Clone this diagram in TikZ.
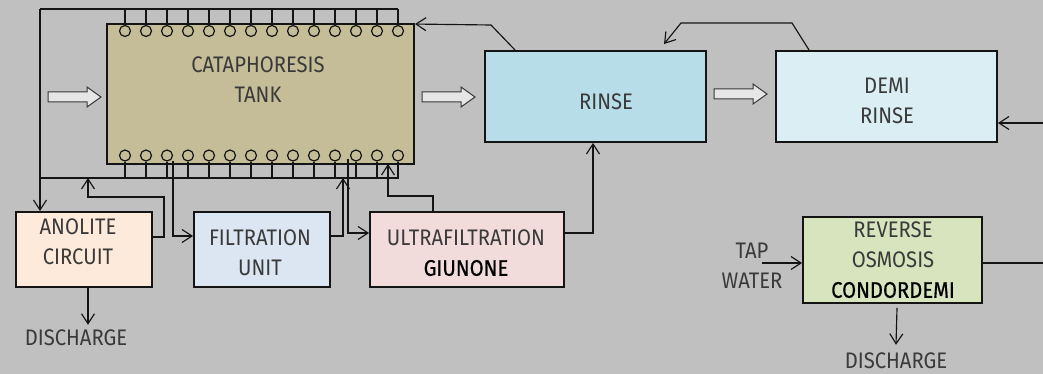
\documentclass[tikz,border=0pt]{standalone}
\usepackage{fontspec}
\setmainfont{Fira Sans}[FakeStretch=0.9]
\newfontfamily\medfont{Fira Sans}[FakeStretch=0.9, FakeBold=0.6]
\usetikzlibrary{arrows.meta,calc}
\definecolor{bggray}{RGB}{192,192,192}
\definecolor{tankfill}{RGB}{196,189,151}
\definecolor{anofill}{RGB}{253,234,218}
\definecolor{filtfill}{RGB}{220,230,242}
\definecolor{uffill}{RGB}{242,220,219}
\definecolor{rinsefill}{RGB}{183,221,232}
\definecolor{demifill}{RGB}{219,238,244}
\definecolor{rofill}{RGB}{215,228,189}
\definecolor{fatfill}{RGB}{230,230,230}
\definecolor{txtgray}{RGB}{58,58,58}
\definecolor{edge}{RGB}{20,20,20}
\tikzset{
  box/.style={draw=edge, line width=1.9pt, inner sep=0pt},
  txt/.style={font=\fontsize{22.5}{30}\selectfont, text=txtgray, align=center, inner sep=0pt},
  conn/.style={draw=edge, line width=1.15pt, -{Straight Barb[length=10pt,width=13pt,line width=1.15pt]}},
  bus/.style={draw=edge, line width=2pt},
  port/.style={circle, draw=edge, line width=1.2pt, fill=tankfill, minimum size=11pt, inner sep=0pt},
  fat/.style={draw=edge!85, line width=1pt, fill=fatfill}
}
\newcommand{\fatarrowat}[3]{% name, x start, y centre
  \draw[fat] (#2,#3-5) -- (#2+39,#3-5) -- (#2+39,#3-10) -- (#2+53,#3) -- (#2+39,#3+10) -- (#2+39,#3+5) -- (#2,#3+5) -- cycle;
  \coordinate (#1) at (#2+53,#3);
}
\begin{document}
\begin{tikzpicture}[x=1pt,y=-1pt]
\fill[bggray] (0,0) rectangle (1043,374);
\useasboundingbox (0,0) rectangle (1043,374);
\clip (0,0) rectangle (1043,374);

% boxes
\node[box, fill=tankfill, minimum width=307pt, minimum height=140pt] (tank) at (260.5,94) {};
\node[box, fill=anofill, minimum width=136pt, minimum height=75pt] (anolite) at (84,249.5) {};
\node[box, fill=filtfill, minimum width=136pt, minimum height=75pt] (filt) at (262,249.5) {};
\node[box, fill=uffill, minimum width=194pt, minimum height=75pt] (uf) at (467,249.5) {};
\node[box, fill=rinsefill, minimum width=221pt, minimum height=91pt] (rinse) at (595.5,96.5) {};
\node[box, fill=demifill, minimum width=221pt, minimum height=91pt] (demi) at (886.5,96.5) {};
\node[box, fill=rofill, minimum width=179pt, minimum height=86pt] (ro) at (892.5,260) {};

% texts
\node[txt] (tanktxt) at (258,80) {CATAPHORESIS\\TANK};
\node[txt] (anotxt) at (78,242) {ANOLITE\\CIRCUIT};
\node[txt] (filttxt) at (260,253) {FILTRATION\\UNIT};
\node[txt] (uftxt) at (466,253) {ULTRAFILTRATION\\\textcolor{black}{\medfont GIUNONE}};
\node[txt] (rinsetxt) at (606,101.5) {RINSE};
\node[txt] (demitxt) at (887,100.5) {DEMI\\RINSE};
\node[txt] (rotxt) at (893,260) {REVERSE\\OSMOSIS\\\textcolor{black}{\medfont CONDORDEMI}};
\node[txt] (taptxt) at (752,265.5) {TAP\\WATER};
\node[txt] (dis1) at (76,338) {DISCHARGE};
\node[txt] (dis2) at (896,361) {DISCHARGE};

% buses and ports
\coordinate (tl) at (40,9);
\coordinate (tr) at (398,9);
\coordinate (bl) at (40,178);
\coordinate (br) at (399,178);
\foreach \i in {0,...,13} {
  \node[port] (t\i) at (125+21*\i,31) {};
  \node[port] (b\i) at (125+21*\i,155.5) {};
  \draw[bus] (t\i.north) -- (t\i.north |- tl);
  \draw[bus] (b\i.south) -- (b\i.south |- bl);
}
\draw[bus] (tl) -- (tr);
\draw[bus] (bl) -- (br);
\draw[conn] (tl) -- (tl |- anolite.north);

% anolite return to bus
\coordinate (busA) at (88,178);
\draw[conn] ($(anolite.east)+(0,-12.5)$) -- ++(11,0) |- ($(busA)+(0,19)$) -- (busA);

% tank -> filtration
\coordinate (tkF) at (173,161);
\draw[conn] (tkF) |- ($(filt.west)+(0,-13.5)$);

% filtration -> bus
\coordinate (busF) at (343,178);
\draw[conn] ($(filt.east)+(0,-13.5)$) -| (busF);

% tank -> ultrafiltration
\coordinate (tkU) at (348,159);
\draw[conn] (tkU) |- ($(uf.west)+(0,-16.5)$);

% ultrafiltration -> tank
\coordinate (tkR) at (388,164);
\draw[conn] ($(uf.north)+(-34,0)$) -- ++(0,-15) -| (tkR);

% ultrafiltration -> rinse
\draw[conn] ($(uf.east)+(0,-16.5)$) -| ($(rinse.south)+(-2.5,0)$);

% rinse -> tank
\coordinate (rk1) at (491,25);
\draw[conn] ($(rinse.north west)+(31,0)$) -- (rk1) -- ($(tank.north east)+(0,1)$);

% demi -> rinse
\coordinate (dk1) at (792,23);
\coordinate (dk2) at (681,23);
\draw[conn] ($(demi.north west)+(34,0)$) -- (dk1) -- (dk2) -- ($(rinse.north)+(68.5,-6)$);

% reverse osmosis -> demi
\coordinate (rk2) at (1060,263);
\draw[conn] ($(ro.east)+(0,3)$) -- (rk2) |- ($(demi.east)+(0,26.5)$);

% tap water -> RO
\coordinate (tapEnd) at (762,263);
\draw[conn] (tapEnd) -- ($(ro.west)+(0,3)$);

% discharges
\draw[conn] ($(ro.south)+(4.5,4)$) -- ($(dis2.north)+(0,-8)$);
\draw[conn] ($(anolite.south)+(4,0)$) -- ($(dis1.north)+(12,-5)$);

% fat transfer arrows
\fatarrowat{fa1}{48}{97}
\fatarrowat{fa2}{422}{97}
\fatarrowat{fa3}{714}{94}
\end{tikzpicture}
\end{document}
